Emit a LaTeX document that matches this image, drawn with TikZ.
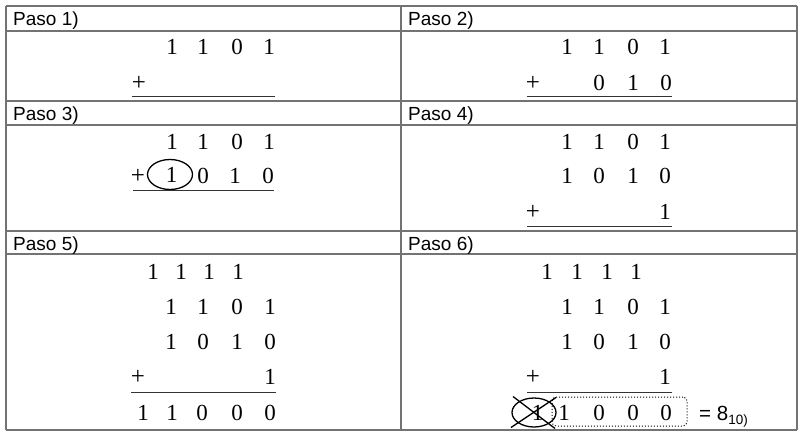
\documentclass[tikz,border=0pt]{standalone}
\usepackage{fontspec}
\setmainfont{Liberation Serif}
\setsansfont{Liberation Sans}
\usetikzlibrary{shapes.geometric,calc}
\begin{document}
\begin{tikzpicture}[x=1pt,y=-1pt,
 gridline/.style={draw=black!55, line width=1.6pt},
 hdr/.style={anchor=base west, font=\sffamily\fontsize{19}{19}\selectfont, inner sep=0pt},
 dig/.style={font=\fontsize{23}{23}\selectfont, inner sep=0pt},
 plus/.style={font=\fontsize{25}{25}\selectfont, inner sep=0pt},
 sumrule/.style={draw=black!80, line width=1pt},
 ring/.style={draw=black, line width=1.3pt, ellipse, inner sep=0pt, font=\fontsize{23}{23}\selectfont}]
\useasboundingbox (0,0) rectangle (803,433);
% table
\foreach \yy [count=\k] in {6,31,101,125,231,254,430}
  {\coordinate (hl\k) at (6,\yy); \coordinate (hr\k) at (797,\yy);
   \draw[gridline] (hl\k) -- (hr\k);}
\foreach \xx [count=\k] in {6,401,797}
  {\coordinate (vt\k) at (\xx,6); \coordinate (vb\k) at (\xx,430);
   \draw[gridline] (vt\k) -- (vb\k);}
% headers
\node[hdr] (h1) at (13,26) {Paso 1)};
\node[hdr] (h2) at (408,26) {Paso 2)};
\node[hdr] (h3) at (13,121) {Paso 3)};
\node[hdr] (h4) at (408,121) {Paso 4)};
\node[hdr] (h5) at (13,250) {Paso 5)};
\node[hdr] (h6) at (408,250) {Paso 6)};
% Paso 1
\foreach \d/\x [count=\i] in {1/172,1/203,0/237,1/269} \node[dig] (a1\i) at (\x,47) {\d};
\node[plus] (a1p) at (139,83) {+};
\coordinate (a1l) at (132,96.5); \coordinate (a1r) at (275,96.5);
\draw[sumrule] (a1l) -- (a1r);
% Paso 2
\foreach \d/\x [count=\i] in {1/567,1/599,0/633,1/665} \node[dig] (b1\i) at (\x,47) {\d};
\node[plus] (b2p) at (533,83) {+};
\foreach \d/\x [count=\i] in {0/599,1/633,0/666} \node[dig] (b2\i) at (\x,83) {\d};
\coordinate (b2l) at (527,96.5); \coordinate (b2r) at (672,96.5);
\draw[sumrule] (b2l) -- (b2r);
% Paso 3
\foreach \d/\x [count=\i] in {1/172,1/203,0/237,1/269} \node[dig] (c1\i) at (\x,142) {\d};
\node[plus] (c2p) at (138,176) {+};
\node[ring, minimum width=45pt, minimum height=30pt] (c2c) at (170,174.5) {\hspace*{3pt}1};
\foreach \d/\x [count=\i] in {0/203,1/235,0/268} \node[dig] (c2\i) at (\x,176) {\d};
\coordinate (c2l) at (133,190); \coordinate (c2r) at (274,190);
\draw[sumrule] (c2l) -- (c2r);
% Paso 4
\foreach \d/\x [count=\i] in {1/567,1/599,0/633,1/665} \node[dig] (d1\i) at (\x,142) {\d};
\foreach \d/\x [count=\i] in {1/567,0/599,1/633,0/665} \node[dig] (d2\i) at (\x,176) {\d};
\node[plus] (d3p) at (533,212) {+};
\node[dig] (d31) at (665,212) {1};
\coordinate (d3l) at (527,226); \coordinate (d3r) at (672,226);
\draw[sumrule] (d3l) -- (d3r);
% Paso 5
\foreach \d/\x [count=\i] in {1/153,1/181,1/209,1/238} \node[dig] (e0\i) at (\x,272) {\d};
\foreach \d/\x [count=\i] in {1/171,1/203,0/237,1/270} \node[dig] (e1\i) at (\x,307) {\d};
\foreach \d/\x [count=\i] in {1/171,0/203,1/237,0/270} \node[dig] (e2\i) at (\x,342) {\d};
\node[plus] (e3p) at (138,377) {+};
\node[dig] (e31) at (270,377) {1};
\coordinate (e3l) at (131,392); \coordinate (e3r) at (276,392);
\draw[sumrule] (e3l) -- (e3r);
\foreach \d/\x [count=\i] in {1/143,1/172,0/202,0/237,0/270} \node[dig] (e4\i) at (\x,413) {\d};
% Paso 6
\foreach \d/\x [count=\i] in {1/547,1/577,1/607,1/636} \node[dig] (f0\i) at (\x,272) {\d};
\foreach \d/\x [count=\i] in {1/567,1/599,0/633,1/665} \node[dig] (f1\i) at (\x,307) {\d};
\foreach \d/\x [count=\i] in {1/567,0/599,1/633,0/665} \node[dig] (f2\i) at (\x,342) {\d};
\node[plus] (f3p) at (533,377) {+};
\node[dig] (f31) at (665,377) {1};
\coordinate (f3l) at (527,392); \coordinate (f3r) at (672,392);
\draw[sumrule] (f3l) -- (f3r);
\node[ring, minimum width=44pt, minimum height=29pt] (f4c) at (534,412.5) {\hspace*{7pt}1};
\draw[line width=1.3pt] ($(f4c.center)+(-21,-16)$) -- ($(f4c.center)+(21,16)$);
\draw[line width=1.3pt] ($(f4c.center)+(-23,15)$) -- ($(f4c.center)+(22,-15)$);
\node[draw, dotted, line width=1pt, rounded corners=4pt, minimum width=135pt, minimum height=29pt, inner sep=0pt] (f4box) at (619.5,411.5) {};
\foreach \d/\x [count=\i] in {1/564,0/599,0/633,0/666} \node[dig] (f4\i) at (\x,413) {\d};
\node[anchor=base west, font=\sffamily\fontsize{20.5}{20.5}\selectfont, inner sep=0pt] (res) at (699,420)
  {= 8\raisebox{-4pt}{\fontsize{13.5}{13.5}\selectfont 10)}};
\end{tikzpicture}
\end{document}
